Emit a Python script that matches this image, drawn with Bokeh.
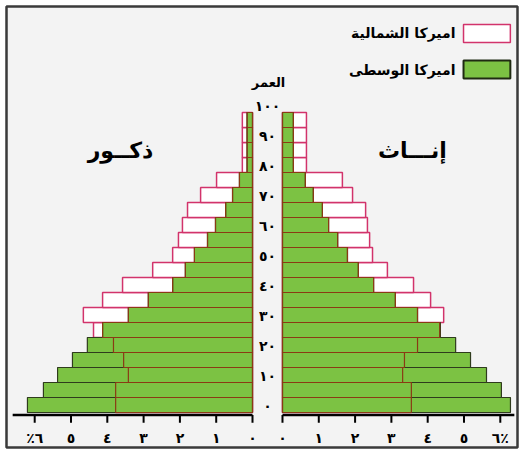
import numpy as np
from bokeh.plotting import figure
from bokeh.models import Range1d, ColumnDataSource
from bokeh.core.properties import value
from bokeh.embed import file_html
from bokeh.resources import INLINE

# ---------------- data ----------------
age_start = [0, 5, 10, 15, 20, 25, 30, 35, 40, 45, 50, 55, 60, 65, 70, 75, 80, 85, 90, 95]
# males (left side), percent of population
male_na = [3.77, 3.77, 3.42, 3.55, 3.83, 4.38, 4.66, 4.13, 3.58, 2.75, 2.20, 2.04, 1.93, 1.79, 1.43, 0.99, 0.28, 0.28, 0.28, 0.28]
male_ca = [6.20, 5.76, 5.37, 4.96, 4.55, 4.13, 3.42, 2.87, 2.20, 1.85, 1.60, 1.24, 1.02, 0.74, 0.55, 0.36, 0.15, 0.15, 0.15, 0.15]
# females (right side)
female_na = [3.55, 3.55, 3.31, 3.36, 3.72, 4.33, 4.44, 4.08, 3.61, 2.89, 2.48, 2.40, 2.34, 2.29, 1.93, 1.65, 0.66, 0.66, 0.66, 0.66]
female_ca = [6.28, 6.03, 5.62, 5.18, 4.77, 4.35, 3.72, 3.11, 2.51, 2.09, 1.79, 1.52, 1.27, 1.10, 0.85, 0.63, 0.30, 0.30, 0.30, 0.30]

age_ticks = [0, 10, 20, 30, 40, 50, 60, 70, 80, 90, 100]
age_labels = ["٠", "١٠", "٢٠", "٣٠", "٤٠", "٥٠", "٦٠", "٧٠", "٨٠", "٩٠", "١٠٠"]
pct_ticks = [0, 1, 2, 3, 4, 5, 6]
left_pct_labels = ["٠", "١", "٢", "٣", "٤", "٥", "٪٦"]
right_pct_labels = ["٠", "١", "٢", "٣", "٤", "٥", "٦٪"]

legend_names = ["اميركا الشمالية", "اميركا الوسطى"]
title_age = "العمر"
male_title = "ذكــور"
female_title = "إنـــاث"

# ---------------- styling ----------------
GREEN = "#7cc243"
GREEN_LINE = "#2f3b1d"
PINK = "#d2336b"
BROWN = "#8a3a14"
BG = "#f3f3f3"
FONT = value("DejaVu Sans")
gap = 0.413  # half-width of the central age column in % units

p = figure(width=519, height=450, output_backend="svg", toolbar_location=None,
           x_axis_type=None, y_axis_type=None,
           min_border_left=6, min_border_top=6, min_border_right=2, min_border_bottom=3,
           x_range=Range1d(-7.190, 6.887), y_range=Range1d(-11.67, 135.33))
p.background_fill_color = BG
p.border_fill_color = "white"
p.outline_line_color = "#3a3a3a"
p.outline_line_width = 2.5
p.grid.visible = False

ages = np.array(age_start, dtype=float)
yc = ages + 2.5
mna = np.array(male_na); mca = np.array(male_ca)
fna = np.array(female_na); fca = np.array(female_ca)

src = ColumnDataSource(dict(
    y=yc,
    m_na_l=-(gap + mna), m_ca_l=-(gap + mca), m_min_l=-(gap + np.minimum(mna, mca)),
    f_na_r=gap + fna, f_ca_r=gap + fca, f_min_r=gap + np.minimum(fna, fca),
    m_r=np.full(len(yc), -gap), f_l=np.full(len(yc), gap),
))

# North America (white boxes, pink outline)
p.hbar(y="y", left="m_na_l", right="m_r", height=5, source=src,
       fill_color="white", line_color=PINK, line_width=1.5)
p.hbar(y="y", left="f_l", right="f_na_r", height=5, source=src,
       fill_color="white", line_color=PINK, line_width=1.5)
# Central America (green)
p.hbar(y="y", left="m_ca_l", right="m_r", height=5, source=src,
       fill_color=GREEN, line_color=GREEN_LINE, line_width=1.2)
p.hbar(y="y", left="f_l", right="f_ca_r", height=5, source=src,
       fill_color=GREEN, line_color=GREEN_LINE, line_width=1.2)
# North America outline over the green part
p.hbar(y="y", left="m_min_l", right="m_r", height=5, source=src,
       fill_color=None, line_color=BROWN, line_width=1.2)
p.hbar(y="y", left="f_l", right="f_min_r", height=5, source=src,
       fill_color=None, line_color=BROWN, line_width=1.2)

# --- horizontal percentage axes (split in two) ---
axis_y = -0.8
p.segment(x0=[-7.02, gap], x1=[-gap, 6.80], y0=[axis_y, axis_y], y1=[axis_y, axis_y],
          line_color="black", line_width=2.5)
lt = [-(gap + t) for t in pct_ticks]
rt = [gap + t for t in pct_ticks]
p.segment(x0=lt + rt, x1=lt + rt, y0=[axis_y] * 14, y1=[-3.4] * 14,
          line_color="black", line_width=2)
p.text(x=lt, y=[-8.4] * 7, text=left_pct_labels, text_font=FONT, text_font_style="bold",
       text_font_size="14px", text_align="center", text_baseline="middle", text_color="black")
p.text(x=rt, y=[-8.4] * 7, text=right_pct_labels, text_font=FONT, text_font_style="bold",
       text_font_size="14px", text_align="center", text_baseline="middle", text_color="black")

# --- age labels in the central column ---
p.text(x=[0] * len(age_ticks), y=[a + 2 for a in age_ticks], text=age_labels,
       text_font=FONT, text_font_style="bold", text_font_size="14px",
       text_align="center", text_baseline="middle", text_color="black")
p.text(x=[0.03], y=[110], text=[title_age], text_font=FONT, text_font_style="bold",
       text_font_size="13px", text_align="center", text_baseline="middle", text_color="black")

# --- section titles ---
p.text(x=[-4.05, 3.99], y=[87.3, 87.3], text=[male_title, female_title], text_font=FONT,
       text_font_style="bold", text_font_size="22px", text_align="center",
       text_baseline="middle", text_color="black")

# --- legend (label left, swatch right) ---
p.quad(left=[5.40], right=[6.69], top=[129.3], bottom=[123.3],
       fill_color="white", line_color=PINK, line_width=1.5)
p.quad(left=[5.40], right=[6.69], top=[117.3], bottom=[111.3],
       fill_color=GREEN, line_color="#1f2a12", line_width=2)
p.text(x=[5.18, 5.18], y=[126.4, 114.3], text=legend_names, text_font=FONT,
       text_font_style="bold", text_font_size="14px", text_align="right",
       text_baseline="middle", text_color="black")

open("out.html", "w").write(file_html(p, INLINE))
